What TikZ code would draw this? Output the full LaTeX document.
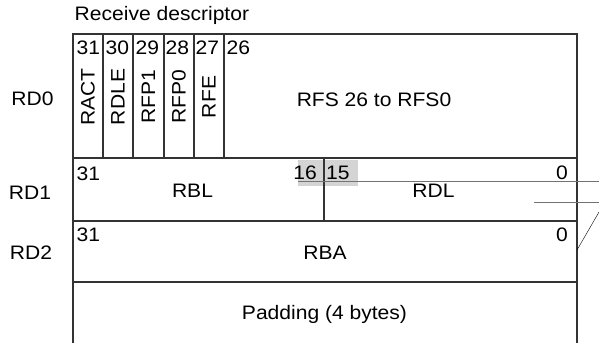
\documentclass[tikz,border=0pt]{standalone}
\usepackage{fontspec}
\setmainfont{Liberation Sans}[FakeStretch=1.08]
\usetikzlibrary{backgrounds}

\begin{document}
\begin{tikzpicture}
      [x=1pt, y=-1pt,
      every node/.style={inner sep=0pt, font=\fontsize{19.5}{22}\selectfont},
      rule/.style={draw=black!80, line width=1.1pt},
      stub/.style={draw=black!55, line width=0.9pt},
      bitno/.style={anchor=north west},
      bitnoright/.style={anchor=north east},
      field/.style={anchor=base},
      flag/.style={rotate=90, anchor=center},
      word/.style={anchor=base}]
      \useasboundingbox (0,0) rectangle (599,343);
      % highlighted bit numbers
      \fill [black!17] (298,160) rectangle (358,186);
      % Place nodes
      \node [anchor=base west] (title) at (74.5,20.7) {Receive descriptor};
      \node [word] (rd0) at (32.5,105) {RD0};
      \node [word] (rd1) at (30,199) {RD1};
      \node [word] (rd2) at (31,259) {RD2};
      \foreach \x/\n in {76.5/31, 105.5/30, 135.5/29, 165.5/28, 195.5/27, 226.5/26}
        \node [bitno] (bit\n) at (\x,40.7) {\n};
      \foreach \x/\t in {88/RACT, 118/RDLE, 148.5/RFP1, 179/RFP0, 209/RFE}
        \node [flag] (\t) at (\x,97) {\t};
      \node [field] (rfs) at (374,106.5) {RFS 26 to RFS0};
      \node [bitno] (rbl31) at (76.5,166.5) {31};
      \node [bitnoright] (rbl16) at (317,165.5) {16};
      \node [bitno] (rdl15) at (326,165.5) {15};
      \node [bitnoright] (rdl0) at (568,165.5) {0};
      \node [field] (rbl) at (192.5,197) {RBL};
      \node [field] (rdl) at (433.5,197.5) {RDL};
      \node [bitno] (rba31) at (76.5,227.5) {31};
      \node [bitnoright] (rba0) at (568,227.5) {0};
      \node [field] (rba) at (325,259) {RBA};
      \node [field] (pad) at (324.5,319) {Padding (4 bytes)};
      % Draw frame
      \draw [rule] (73,343) -- (73,34) -- (577,34) -- (577,343);
      \foreach \y in {158, 221, 282}
        \draw [rule] (73,\y) -- (577,\y);
      \foreach \x in {103, 133, 164, 194, 224}
        \draw [rule] (\x,34) -- (\x,158);
      \draw [rule] (324,158) -- (324,221);
      % Draw edges
      \coordinate (a1) at (298,181);
      \coordinate (a2) at (599,181);
      \coordinate (b1) at (534,202);
      \coordinate (b2) at (599,202);
      \coordinate (c1) at (577,250);
      \coordinate (c2) at (599,212);
      \draw [stub] (a1) -- (a2);
      \draw [stub] (b1) -- (b2);
      \draw [thin] (c1) -- (c2);
    \end{tikzpicture}
\end{document}
